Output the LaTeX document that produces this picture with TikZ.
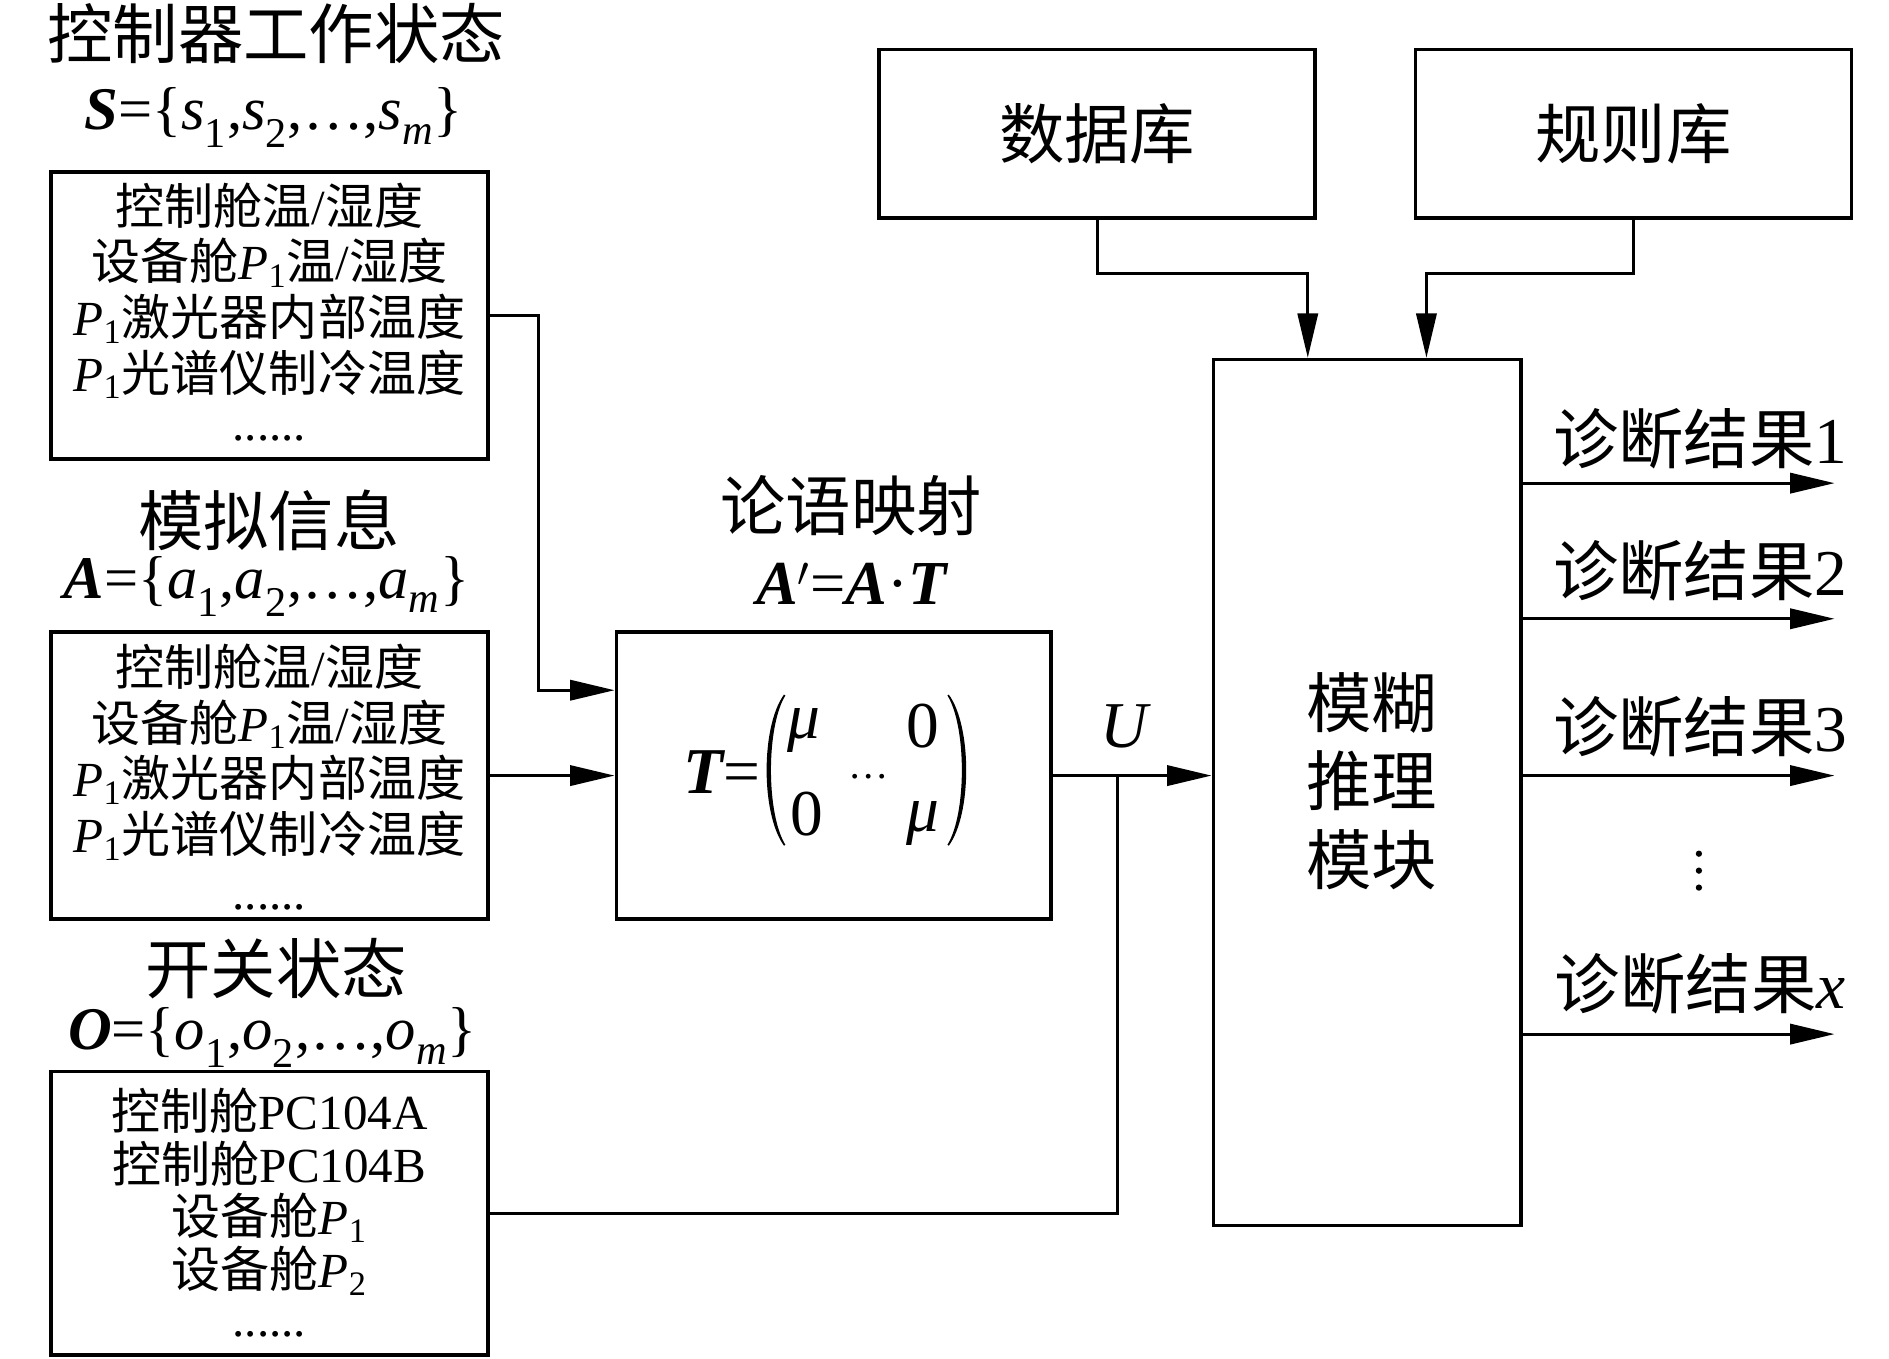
\documentclass[tikz,border=0pt]{standalone}
\usepackage{fontspec}
\setmainfont{Noto Sans CJK SC}
\newfontfamily\en{Liberation Serif}
\usetikzlibrary{arrows.meta}
\newcommand\mysub[1]{\raisebox{-0.12em}{\textsubscript{\en #1}}}
\newcommand\Pn[1]{{\en\itshape P}\textsubscript{\en #1}}
\newcommand\bi[1]{{\en\bfseries\itshape #1}}
\newcommand\iti[1]{{\en\itshape #1}}
\begin{document}
\begin{tikzpicture}[x=0.6pt,y=-0.6pt,
  blk/.style={draw, line width=1.8pt, inner sep=0pt},
  conn/.style={line width=1.5pt},
  arr/.style={conn, -{Triangle[length=22pt,width=10pt]}},
  big/.style={font=\fontsize{32.4}{39}\selectfont, inner sep=0pt, align=center},
  setf/.style={font=\fontsize{30}{34}\selectfont, inner sep=0pt},
  boxtxt/.style={font=\fontsize{24.3}{27.6}\selectfont, inner sep=0pt, align=center},
]
\useasboundingbox (0,0) rectangle (1560,1122);

% ---------- left column ----------
\node[big] (t1) at (228,28) {控制器工作状态};
\node[setf] (s1) at (226,97) {\en\bi{S}=\{\iti{s}\mysub{1},\iti{s}\mysub{2},…,\iti{s}\mysub{\itshape m}\}};
\node[blk, minimum width=216.6pt, minimum height=142.2pt] (box1) at (222.5,260.5) {};
\node[boxtxt] (b1t) at (222.5,240) {控制舱温{\en /}湿度\\设备舱\Pn{1}温{\en /}湿度\\\Pn{1}激光器内部温度\\\Pn{1}光谱仪制冷温度};
\node[boxtxt, anchor=base] (b1d) at (222.5,364) {\en ......};

\node[big] (t2) at (222,430) {模拟信息};
\node[setf] (s2) at (220,484) {\en\bi{A}=\{\iti{a}\mysub{1},\iti{a}\mysub{2},…,\iti{a}\mysub{\itshape m}\}};
\node[blk, minimum width=216.6pt, minimum height=142.2pt] (box2) at (222.5,640.5) {};
\node[boxtxt] (b2t) at (222.5,621) {控制舱温{\en /}湿度\\设备舱\Pn{1}温{\en /}湿度\\\Pn{1}激光器内部温度\\\Pn{1}光谱仪制冷温度};
\node[boxtxt, anchor=base] (b2d) at (222.5,751) {\en ......};

\node[big] (t3) at (228,800) {开关状态};
\node[setf] (s3) at (225,857) {\en\bi{O}=\{\iti{o}\mysub{1},\iti{o}\mysub{2},…,\iti{o}\mysub{\itshape m}\}};
\node[blk, minimum width=216.6pt, minimum height=140.4pt] (box3) at (222.5,1002) {};
\node[boxtxt, font=\fontsize{24.3}{26.1}\selectfont] (b3t) at (222.5,984) {控制舱{\en PC104A}\\控制舱{\en PC104B}\\设备舱\Pn{1}\\设备舱\Pn{2}};
\node[boxtxt, anchor=base] (b3d) at (222.5,1104) {\en ......};

% ---------- mapping box ----------
\node[big] (t4) at (703,418) {论语映射};
\node[setf, font=\fontsize{31}{34}\selectfont] (s4) at (703,482) {\en\bi{A}$'$=\bi{A}·\bi{T}};
\node[blk, minimum width=215.4pt, minimum height=142.2pt] (tbox) at (688.5,640.5) {};
\node[big] (teq) at (596,638) {\en\bi{T}=};
\fill[draw, line width=0.8pt] (648,574) .. controls (629,600) and (629,672) .. (648,698)
   .. controls (632,672) and (632,600) .. (648,574) -- cycle;
\fill[draw, line width=0.8pt] (783,574) .. controls (802,600) and (802,672) .. (783,698)
   .. controls (799,672) and (799,600) .. (783,574) -- cycle;
\node[big] (m11) at (664,603) {\en\itshape μ};
\node[big] (m12) at (762,600) {\en 0};
\node[big, font=\fontsize{20}{22}\selectfont, anchor=base] (mdots) at (717,643) {\en …};
\node[big] (m21) at (666,672) {\en 0};
\node[big] (m22) at (762,680) {\en\itshape μ};
\node[big] (u) at (928,600) {\en\itshape U};

% ---------- top boxes ----------
\node[blk, minimum width=216pt, minimum height=83.4pt, font=\fontsize{32.4}{39}\selectfont] (db) at (906,110.5) {数据库};
\node[blk, minimum width=216pt, minimum height=83.4pt, font=\fontsize{32.4}{39}\selectfont] (rb) at (1349,110.5) {规则库};

% ---------- fuzzy module ----------
\node[blk, minimum width=152.4pt, minimum height=429pt] (fz) at (1129,654.5) {};
\node[big] (fzt) at (1133,645) {模糊\\推理\\模块};

% ---------- outputs ----------
\coordinate (o1) at (1515,399);
\coordinate (o2) at (1515,511);
\coordinate (o3) at (1515,640.5);
\coordinate (o4) at (1515,854);
\node[big] (l1) at (1404,362) {诊断结果{\en 1}};
\node[big] (l2) at (1404,471) {诊断结果{\en 2}};
\node[big] (l3) at (1404,600) {诊断结果{\en 3}};
\node[big] (l4) at (1404,812) {诊断结果{\en\itshape x}};
\fill (1403,705) circle (2.6) (1403,719) circle (2.6) (1403,733) circle (2.6);
\foreach \o in {o1,o2,o3,o4} \draw[arr] (\o -| fz.east) -- (\o);

% ---------- connectors ----------
\coordinate (k1) at (445,570);
\draw[arr] (box1.east) -| (k1) -- (k1 -| tbox.west);
\draw[arr] (box2.east) -- (tbox.west);
\draw[arr] (tbox.east) -- (tbox.east -| fz.west);
\coordinate (k2) at (923,640.5);
\draw[conn] (box3.east) -| (k2);
\coordinate (k3) at (1080,226);
\draw[arr] (db.south) |- (k3) -- (k3 |- fz.north);
\coordinate (k4) at (1178,226);
\draw[arr] (rb.south) |- (k4) -- (k4 |- fz.north);
\end{tikzpicture}
\end{document}
